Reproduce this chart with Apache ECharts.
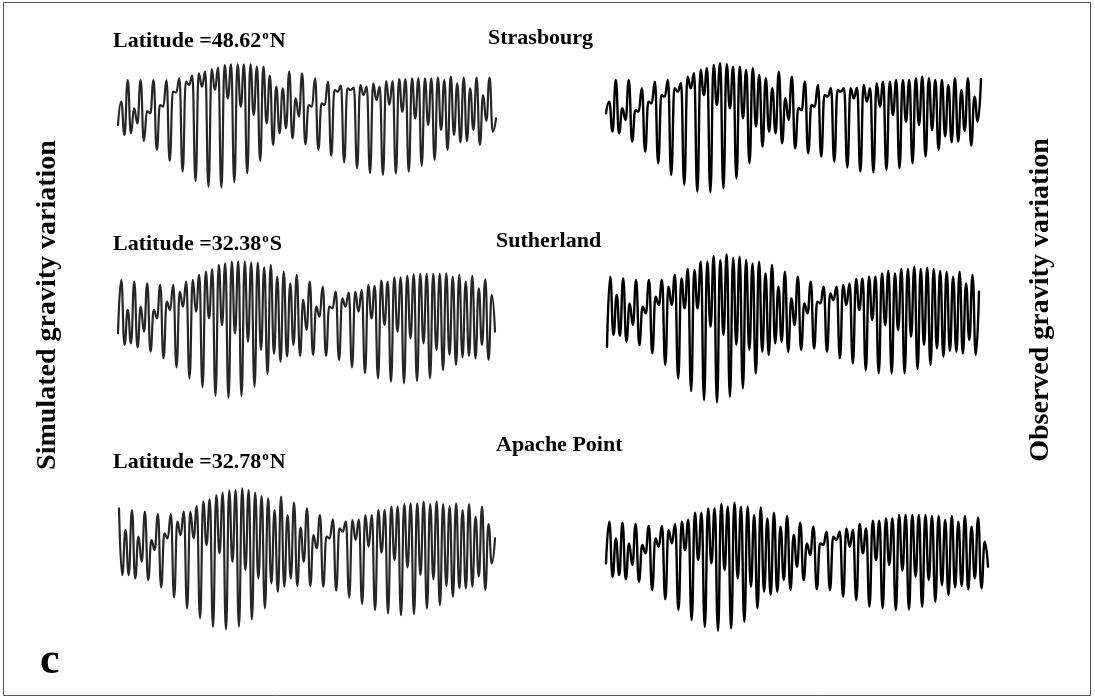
<!DOCTYPE html>
<html>
<head>
<meta charset="utf-8">
<script src="https://cdn.jsdelivr.net/npm/echarts@6/dist/echarts.min.js"></script>
<style>
  html, body { margin: 0; padding: 0; background: #fff; }
  #chart { width: 1095px; height: 699px; }
</style>
</head>
<body>
<div id="chart"></div>
<script>
// Successive turning points (µGal) of the gravity tide at each station,
// one value every ~6 h, simulated on the left, observed on the right.
const simStrasbourg = [3,73,-27,138,-22,53,8,138,-45,45,38,138,-72,63,58,138,-105,103,101,143,-137,133,123,151,-165,158,118,163,-182,171,108,175,-185,183,83,185,-169,185,58,185,-142,185,33,178,-105,178,8,151,-57,118,-22,113,-7,163,-37,83,28,158,-55,63,58,143,-72,68,63,133,-90,108,103,121,-109,113,108,115,-127,123,93,118,-142,128,78,118,-147,135,63,135,-142,141,43,141,-137,143,23,143,-119,143,3,143,-102,145,-12,138,-72,148,-27,128,-49,145,-45,113,-12,145,-57,93,15,145,-17,23];
const obsStrasbourg = [42,77,-13,142,-18,57,22,142,-43,52,47,117,-73,77,72,137,-108,97,92,142,-143,117,107,132,-173,152,117,162,-193,172,97,177,-195,187,67,192,-183,189,57,182,-153,182,27,172,-108,177,2,157,-58,147,-13,117,-18,167,-48,87,22,152,-63,57,52,137,-78,67,62,127,-88,97,92,117,-103,112,107,117,-121,117,87,119,-133,127,77,117,-135,132,62,137,-128,137,37,142,-123,142,17,142,-108,147,7,152,-88,147,-8,142,-68,142,-28,127,-45,147,-43,112,-11,147,-55,92,17,145];
const simSutherland = [-12,148,-47,58,-42,143,-54,68,-7,138,-67,58,33,133,-87,83,58,133,-114,113,68,143,-147,148,53,163,-174,173,33,180,-199,193,13,198,-205,203,-12,203,-200,203,-37,200,-172,200,-62,186,-134,193,-74,158,-97,173,-82,138,-47,163,-80,88,-2,143,-77,68,38,128,-80,68,63,113,-92,93,68,110,-114,113,53,118,-132,133,33,130,-147,146,13,143,-157,156,-7,156,-162,160,-27,165,-155,166,-42,166,-147,166,-62,166,-122,168,-77,158,-107,163,-84,143,-80,160,-87,123,-47,150,-92,103,-7];
const obsSutherland = [-57,153,-22,98,-24,148,-42,73,8,143,-52,63,43,143,-77,93,68,143,-112,123,68,158,-152,148,58,176,-190,173,58,198,-217,198,3,215,-224,203,-22,220,-207,210,-52,213,-182,203,-67,193,-137,198,-72,163,-82,188,-47,123,-42,168,-72,88,8,153,-67,73,43,138,-62,78,73,123,-72,103,83,123,-92,128,68,133,-107,146,53,148,-127,153,23,153,-137,163,8,170,-137,163,-7,176,-137,176,-27,183,-124,176,-52,180,-112,176,-62,170,-87,168,-70,153,-72,168,-77,133,-37,158,-82,108];
const simApache = [151,-49,86,-49,146,-59,66,-9,141,-64,56,26,134,-86,76,61,134,-116,111,71,141,-149,141,61,158,-179,171,41,178,-204,191,16,198,-212,204,-9,206,-204,211,-34,206,-182,198,-59,188,-149,181,-74,146,-99,186,-84,131,-59,168,-82,94,-9,151,-82,71,31,131,-84,66,61,118,-96,91,81,111,-116,116,56,118,-136,131,36,131,-154,146,18,146,-164,156,-4,156,-169,164,-26,166,-166,166,-49,171,-149,164,-62,171,-139,164,-82,158,-114,166,-89,146,-89,164,-84,126,-54,156,-94,104,-14,61];
const obsApache = [10,135,-30,85,-25,132,-38,70,5,128,-45,65,40,122,-70,85,60,122,-98,110,70,128,-130,135,50,140,-160,162,20,162,-180,175,10,175,-192,188,-10,180,-185,192,-35,180,-165,180,-60,155,-125,178,-75,145,-85,162,-75,120,-40,152,-70,95,0,132,-40,70,35,120,-68,70,65,105,-70,90,80,105,-90,115,60,110,-100,128,40,115,-120,138,20,138,-125,145,5,145,-130,155,-12,155,-128,155,-30,155,-120,155,-40,152,-105,152,-55,140,-85,152,-62,135,-58,152,-68,120,-35,148,-65,75,0];

const stations = ['Strasbourg', 'Sutherland', 'Apache Point'];
const latitudeText = [['48.62', 'N'], ['32.38', 'S'], ['32.78', 'N']];
const leftTitle = 'Simulated gravity variation';
const rightTitle = 'Observed gravity variation';
const panelLetter = 'c';

// Panel layout: [left, top, width, height] in pixels
const panels = [
  { data: simStrasbourg, box: [118, 46, 378, 160], color: '#262626', width: 2.2 },
  { data: obsStrasbourg, box: [606, 47.3, 375, 160], color: '#000', width: 2.4 },
  { data: simSutherland, box: [118, 249.3, 377, 160], color: '#262626', width: 2.2 },
  { data: obsSutherland, box: [607, 247.7, 372, 160], color: '#000', width: 2.4 },
  { data: simApache, box: [119, 478.7, 376, 160], color: '#262626', width: 2.2 },
  { data: obsApache, box: [606, 486.7, 382, 160], color: '#000', width: 2.4 }
];
const AMP = 240;

const grid = [], xAxis = [], yAxis = [], series = [];
panels.forEach((p, i) => {
  grid.push({ left: p.box[0], top: p.box[1], width: p.box[2], height: p.box[3] });
  xAxis.push({ type: 'category', gridIndex: i, boundaryGap: false, show: false,
               data: p.data.map((_, k) => k) });
  yAxis.push({ type: 'value', gridIndex: i, min: -AMP, max: AMP, show: false });
  // each point is a turning point, so keep the tangent flat there
  series.push({ type: 'line', xAxisIndex: i, yAxisIndex: i, data: p.data,
                smooth: 0.5, smoothMonotone: 'x', showSymbol: false, silent: true,
                lineStyle: { color: p.color, width: p.width, join: 'round', cap: 'round' } });
});

const serif = '"Liberation Serif", "Times New Roman", serif';
function latLabel(idx, x, y) {
  const [v, h] = latitudeText[idx];
  return {
    type: 'text', x: x, y: y,
    style: {
      text: '{a|Latitude =' + v + '}{s|o}{a|' + h + '}',
      textVerticalAlign: 'middle',
      rich: {
        a: { fontFamily: serif, fontWeight: 'bold', fontSize: 22, lineHeight: 24, verticalAlign: 'bottom', fill: '#000' },
        s: { fontFamily: serif, fontWeight: 'bold', fontSize: 13, lineHeight: 24, verticalAlign: 'top', padding: [1, 1, 0, 1], fill: '#000' }
      }
    }
  };
}
function title(text, x, y) {
  return { type: 'text', x: x, y: y,
           style: { text: text, font: 'bold 22px ' + serif, fill: '#000',
                    textAlign: 'left', textVerticalAlign: 'middle' } };
}
function vertical(text, x, y) {
  return { type: 'text', x: x, y: y, rotation: Math.PI / 2,
           style: { text: text, font: 'bold 28px ' + serif, fill: '#000',
                    textAlign: 'center', textVerticalAlign: 'middle' } };
}

const chart = echarts.init(document.getElementById('chart'), null, { renderer: 'canvas' });
chart.setOption({
  backgroundColor: '#fff',
  animation: false,
  grid, xAxis, yAxis, series,
  graphic: [
    { type: 'rect', shape: { x: 3.5, y: 2.5, width: 1087, height: 693 },
      style: { fill: 'none', stroke: '#555', lineWidth: 1 } },
    latLabel(0, 113, 40),
    latLabel(1, 113, 243),
    latLabel(2, 113, 461),
    title(stations[0], 488, 38),
    title(stations[1], 496, 241),
    title(stations[2], 496, 445),
    vertical(leftTitle, 48, 305),
    vertical(rightTitle, 1041, 300),
    { type: 'text', x: 40, y: 662,
      style: { text: panelLetter, font: 'bold 44px ' + serif, fill: '#000',
               textAlign: 'left', textVerticalAlign: 'middle' } }
  ]
});
</script>
</body>
</html>
